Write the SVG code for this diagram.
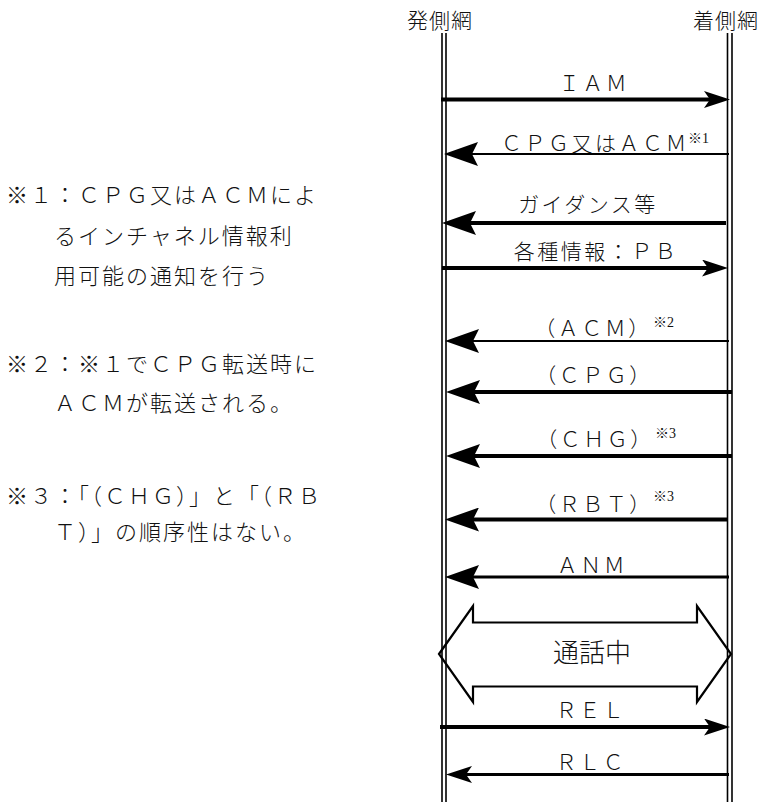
<svg xmlns="http://www.w3.org/2000/svg" width="762" height="802" viewBox="0 0 762 802">
<style>
text{font-family:'Liberation Serif','Noto Sans CJK JP',serif;fill:#111}
.ttl{font-family:'Noto Sans CJK JP',sans-serif;font-size:21px;text-anchor:middle;letter-spacing:1px;font-weight:300}
.lbl{font-size:21px;text-anchor:middle;letter-spacing:2.5px;font-weight:300}
.sup{font-size:14px;font-weight:300}
.note{font-size:22px;letter-spacing:2px;font-weight:300}
.big{font-family:'Noto Sans CJK JP',sans-serif;font-size:26px;text-anchor:middle;font-weight:300}
.life{stroke:#000;stroke-width:1.6;fill:none}
.msg{stroke:#000;fill:none}
.thin{stroke-width:2}
.mid{stroke-width:3}
.thick{stroke-width:4}
.call{fill:none;stroke:#000;stroke-width:2.2;stroke-linejoin:miter}
</style>
<defs>
<marker id="hb" markerUnits="userSpaceOnUse" markerWidth="34" markerHeight="24" viewBox="0 0 34 24" refX="6" refY="12" orient="auto"><path d="M0,0 L34,12 L0,24 L6,12 Z" fill="#000"/></marker>
<marker id="hs" markerUnits="userSpaceOnUse" markerWidth="26" markerHeight="17" viewBox="0 0 26 17" refX="6" refY="8.5" orient="auto"><path d="M0,0 L26,8.5 L0,17 L6,8.5 Z" fill="#000"/></marker>
</defs>
<rect width="762" height="802" fill="#fff"/>

<g id="node-orig">
<text class="ttl" x="440" y="28">発側網</text>
<line class="life" x1="442" y1="33" x2="442" y2="802"/>
<line class="life" x1="446" y1="33" x2="446" y2="802"/>
</g>
<g id="node-term">
<text class="ttl" x="726" y="28">着側網</text>
<line class="life" x1="727.5" y1="33" x2="727.5" y2="802"/>
<line class="life" x1="732" y1="33" x2="732" y2="802"/>
</g>

<g id="note1">
<text class="note" x="6" y="203">※１：ＣＰＧ又はＡＣＭによ</text>
<text class="note" x="54" y="244">るインチャネル情報利</text>
<text class="note" x="54" y="284">用可能の通知を行う</text>
</g>
<g id="note2">
<text class="note" x="6" y="372">※２：※１でＣＰＧ転送時に</text>
<text class="note" x="54" y="411">ＡＣＭが転送される。</text>
</g>
<g id="note3">
<text class="note" x="6" y="504">※３：「（ＣＨＧ）」と「（ＲＢ</text>
<text class="note" x="54" y="540">Ｔ）」の順序性はない。</text>
</g>

<g id="call">
<path class="call" d="M439,654 L473,606 L473,622.5 L697,622.5 L697,606 L731,654 L697,702 L697,686.5 L473,686.5 L473,702 Z"/>
<text class="big" x="592" y="662">通話中</text>
</g>

<g id="connectors">
<line class="msg thick" x1="441" y1="99.5" x2="710" y2="99.5" marker-end="url(#hs)"/>
<text class="lbl" x="594" y="91">ＩＡＭ</text>

<line class="msg thin" x1="729" y1="154" x2="472" y2="154" marker-end="url(#hb)"/>
<text class="lbl" x="595" y="151">ＣＰＧ又はＡＣＭ</text>
<text class="sup" x="688" y="143">※1</text>

<line class="msg thick" x1="726" y1="223" x2="470" y2="223" marker-end="url(#hb)"/>
<text class="lbl" x="588" y="212">ガイダンス等</text>

<line class="msg thick" x1="442" y1="268" x2="708" y2="268" marker-end="url(#hs)"/>
<text class="lbl" x="596" y="259">各種情報：ＰＢ</text>

<line class="msg thin" x1="729" y1="341" x2="473" y2="341" marker-end="url(#hb)"/>
<text class="lbl" x="593" y="336">（ＡＣＭ）</text>
<text class="sup" x="653" y="327">※2</text>

<line class="msg thick" x1="732" y1="392" x2="474" y2="392" marker-end="url(#hb)"/>
<text class="lbl" x="594" y="383">（ＣＰＧ）</text>

<line class="msg thick" x1="732" y1="456" x2="474" y2="456" marker-end="url(#hb)"/>
<text class="lbl" x="595" y="447">（ＣＨＧ）</text>
<text class="sup" x="655" y="438">※3</text>

<line class="msg thick" x1="728" y1="519.5" x2="473" y2="519.5" marker-end="url(#hb)"/>
<text class="lbl" x="594" y="512">（ＲＢＴ）</text>
<text class="sup" x="653" y="501">※3</text>

<line class="msg mid" x1="729" y1="577" x2="473" y2="577" marker-end="url(#hb)"/>
<text class="lbl" x="592" y="573">ＡＮＭ</text>

<line class="msg thick" x1="440" y1="727" x2="710" y2="727" marker-end="url(#hs)"/>
<text class="lbl" x="591" y="718">ＲＥＬ</text>

<line class="msg mid" x1="729" y1="774.5" x2="466" y2="774.5" marker-end="url(#hs)"/>
<text class="lbl" x="591" y="770">ＲＬＣ</text>
</g>
</svg>
